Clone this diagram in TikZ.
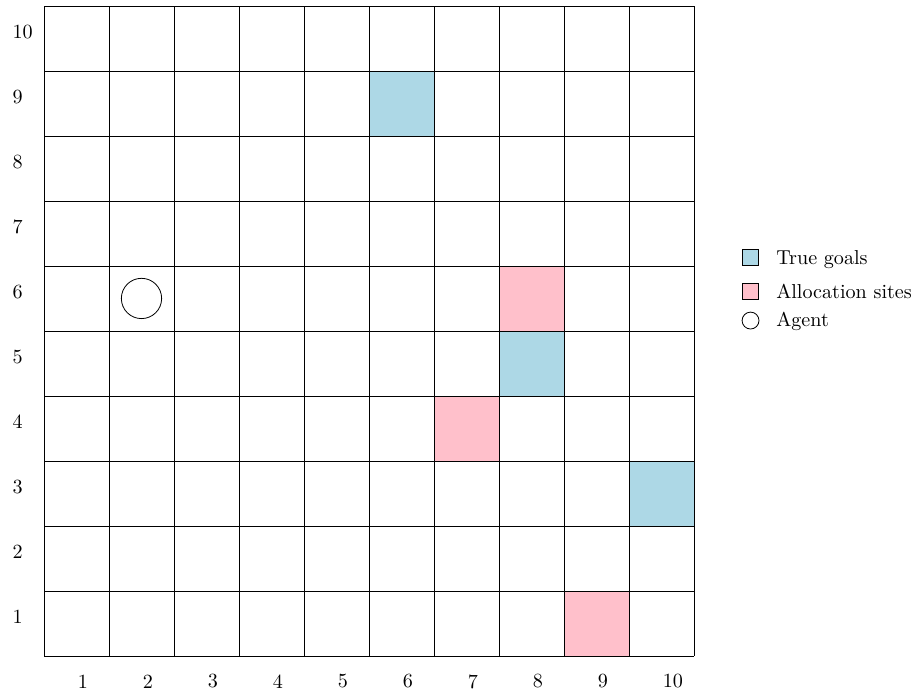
\documentclass[tikz,border=0pt]{standalone}
\definecolor{goalblue}{RGB}{173,216,230}
\definecolor{sitepink}{RGB}{255,192,203}
\tikzset{
  lab/.style={font=\normalsize,inner sep=0pt},
  legbox/.style={draw=black,minimum size=0.246*1.135cm,inner sep=0pt},
  legtext/.style={anchor=west,inner sep=0pt,font=\normalsize}
}
\begin{document}
\begin{tikzpicture}[x=1.135cm,y=1.135cm]
\useasboundingbox (-0.677,-0.646) rectangle (13.431,10.092);
% colored cells
\foreach \c/\r in {6/9,8/5,10/3}{\fill[goalblue] (\c-1,\r-1) rectangle (\c,\r);}
\foreach \c/\r in {8/6,7/4,9/1}{\fill[sitepink] (\c-1,\r-1) rectangle (\c,\r);}
% grid
\foreach \i in {0,...,10}{
  \draw[black] (\i,0) -- (\i,10);
  \draw[black] (0,\i) -- (10,\i);
}
% labels
\foreach \i in {1,...,10}{
  \node[lab,anchor=west] (c\i) at (\i-0.5+0.015,-0.392) {\i};
  \node[lab,anchor=base west] (r\i) at (-0.488,\i-0.5) {\i};
}
% agent
\node[draw,circle,minimum size=0.62*1.135cm,inner sep=0pt] (agent) at (1.5,5.5) {};
% legend
\node[legbox,fill=goalblue] (lg1) at (10.87,6.13) {};
\node[legtext] (lt1) at (11.26,6.1) {True goals};
\node[legbox,fill=sitepink] (lg2) at (10.87,5.615) {};
\node[legtext] (lt2) at (11.26,5.615) {Allocation sites};
\node[draw,circle,minimum size=0.26*1.135cm,inner sep=0pt] (lg3) at (10.87,5.16) {};
\node[legtext] (lt3) at (11.26,5.15) {Agent};
\end{tikzpicture}
\end{document}
